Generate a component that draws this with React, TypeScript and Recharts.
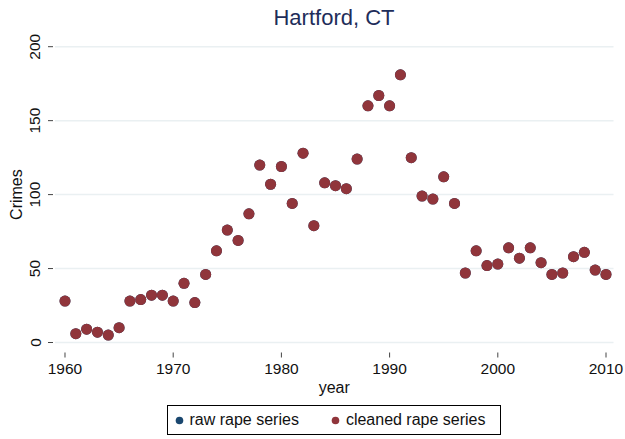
import React from "react";
import {
  CartesianGrid,
  Label,
  Scatter,
  ScatterChart,
  XAxis,
  YAxis,
} from "recharts";

const years = [
  1960, 1961, 1962, 1963, 1964, 1965, 1966, 1967, 1968, 1969, 1970, 1971,
  1972, 1973, 1974, 1975, 1976, 1977, 1978, 1979, 1980, 1981, 1982, 1983,
  1984, 1985, 1986, 1987, 1988, 1989, 1990, 1991, 1992, 1993, 1994, 1995,
  1996, 1997, 1998, 1999, 2000, 2001, 2002, 2003, 2004, 2005, 2006, 2007,
  2008, 2009, 2010,
];

const rawRape = [
  28, 6, 9, 7, 5, 10, 28, 29, 32, 32, 28, 40, 27, 46, 62, 76, 69, 87, 120,
  107, 119, 94, 128, 79, 108, 106, 104, 124, 160, 167, 160, 181, 125, 99, 97,
  112, 94, 47, 62, 52, 53, 64, 57, 64, 54, 46, 47, 58, 61, 49, 46,
];

const cleanedRape = [
  28, 6, 9, 7, 5, 10, 28, 29, 32, 32, 28, 40, 27, 46, 62, 76, 69, 87, 120,
  107, 119, 94, 128, 79, 108, 106, 104, 124, 160, 167, 160, 181, 125, 99, 97,
  112, 94, 47, 62, 52, 53, 64, 57, 64, 54, 46, 47, 58, 61, 49, 46,
];

const xTicks = [1960, 1970, 1980, 1990, 2000, 2010];
const yTicks = [0, 50, 100, 150, 200];

const seriesNames = ["raw rape series", "cleaned rape series"];
const RAW_COLOR = "#1a476f";
const CLEANED_COLOR = "#90353b";

const FONT = "'Liberation Sans', Arial, Helvetica, sans-serif";

const rawPoints = years.map((year, i) => ({ year, value: rawRape[i] }));
const cleanedPoints = years.map((year, i) => ({ year, value: cleanedRape[i] }));

function XTick(props: any) {
  const { x, y, payload } = props;
  return (
    <g>
      <line x1={x} x2={x} y1={y + 10} y2={y + 15} stroke="#444" />
      <text
        x={x}
        y={y + 25.5}
        textAnchor="middle"
        dominantBaseline="central"
        fontSize={15.5}
        fontFamily={FONT}
        fill="#111"
      >
        {payload.value}
      </text>
    </g>
  );
}

function YTick(props: any) {
  const { x, y, payload } = props;
  const tx = x - 20;
  return (
    <g>
      <line x1={x - 7} x2={x - 2} y1={y} y2={y} stroke="#444" />
      <text
        x={tx}
        y={y}
        transform={`rotate(-90, ${tx}, ${y})`}
        textAnchor="middle"
        dominantBaseline="central"
        fontSize={15.5}
        fontFamily={FONT}
        fill="#111"
      >
        {payload.value}
      </text>
    </g>
  );
}

function dot(color: string) {
  return (props: any) => (
    <circle cx={props.cx} cy={props.cy} r={5.5} fill={color} />
  );
}

export default function App() {
  return (
    <div
      style={{
        position: "absolute",
        left: 0,
        top: 0,
        width: 625,
        height: 439,
        background: "#fff",
        fontFamily: FONT,
      }}
    >
      <div
        style={{
          position: "absolute",
          left: 0,
          width: 668,
          top: 4,
          textAlign: "center",
          fontSize: 22,
          color: "#1e2d5a",
          lineHeight: "28px",
        }}
      >
        Hartford, CT
      </div>
      <ScatterChart
        width={625}
        height={439}
        margin={{ top: 46.7, right: 11.5, bottom: 46.5, left: 10 }}
      >
        <CartesianGrid
          horizontal={true}
          vertical={false}
          stroke="#eaf0f2"
          strokeWidth={1.5}
        />
        <XAxis
          type="number"
          dataKey="year"
          domain={[1959.076, 2010.693]}
          ticks={xTicks}
          interval={0}
          height={50}
          axisLine={false}
          tickLine={false}
          tickSize={0}
          tickMargin={0}
          tick={<XTick />}
          allowDataOverflow
        >
          <Label
            value="year"
            position="insideBottom"
            offset={0}
            fontSize={16}
            fontFamily={FONT}
            fill="#111"
          />
        </XAxis>
        <YAxis
          type="number"
          dataKey="value"
          domain={[0, 200]}
          ticks={yTicks}
          interval={0}
          width={45}
          axisLine={false}
          tickLine={false}
          tickSize={0}
          tickMargin={0}
          tick={<YTick />}
          allowDataOverflow
        >
          <Label
            content={(p: any) => {
              const vb = p.viewBox;
              const cx = 17;
              const cy = vb.y + vb.height / 2;
              return (
                <text
                  x={cx}
                  y={cy}
                  transform={`rotate(-90, ${cx}, ${cy})`}
                  textAnchor="middle"
                  dominantBaseline="central"
                  fontSize={16}
                  fontFamily={FONT}
                  fill="#111"
                >
                  Crimes
                </text>
              );
            }}
          />
        </YAxis>
        <Scatter
          name={seriesNames[0]}
          data={rawPoints}
          fill={RAW_COLOR}
          shape={dot(RAW_COLOR)}
          isAnimationActive={false}
        />
        <Scatter
          name={seriesNames[1]}
          data={cleanedPoints}
          fill={CLEANED_COLOR}
          shape={dot(CLEANED_COLOR)}
          isAnimationActive={false}
        />
      </ScatterChart>
      <div
        style={{
          position: "absolute",
          left: 166.5,
          top: 405,
          width: 334,
          height: 30,
          border: "1px solid #000",
          boxSizing: "border-box",
          display: "flex",
          alignItems: "center",
          fontSize: 16,
          color: "#111",
        }}
      >
        {seriesNames.map((name, i) => (
          <div
            key={name}
            style={{
              display: "flex",
              alignItems: "center",
              marginLeft: i === 0 ? 7 : 32,
            }}
          >
            <svg width={9} height={9} style={{ marginRight: 6 }}>
              <circle
                cx={4.5}
                cy={4.5}
                r={3.8}
                fill={i === 0 ? RAW_COLOR : CLEANED_COLOR}
              />
            </svg>
            <span>{name}</span>
          </div>
        ))}
      </div>
    </div>
  );
}
